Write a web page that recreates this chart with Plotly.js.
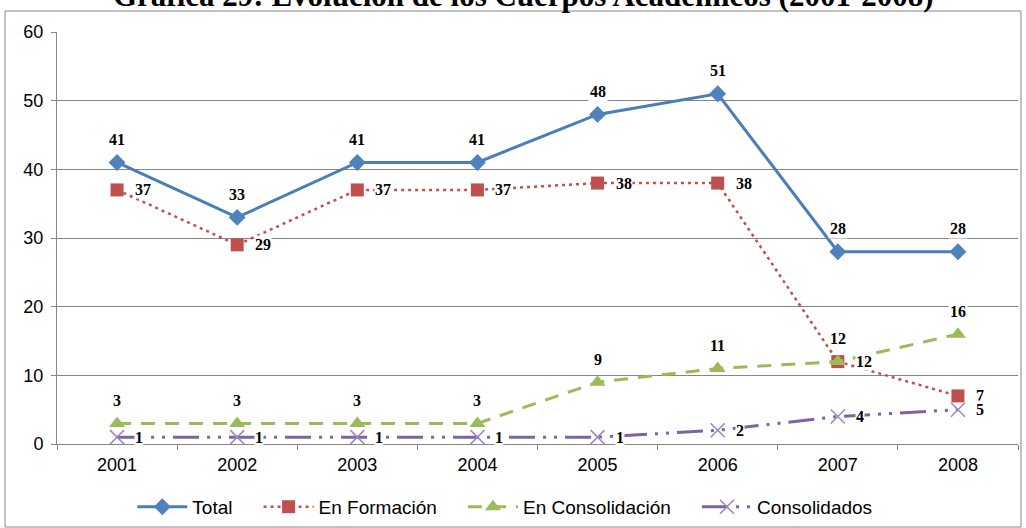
<!DOCTYPE html>
<html>
<head>
<meta charset="utf-8">
<script src="https://cdn.plot.ly/plotly-3.0.1.min.js"></script>
<style>html,body{margin:0;padding:0;background:#fff;}#chart{width:1026px;height:528px;}</style>
</head>
<body>
<div id="chart"></div>
<script>
const years = ['2001','2002','2003','2004','2005','2006','2007','2008'];
const total = [41, 33, 41, 41, 48, 51, 28, 28];
const enFormacion = [37, 29, 37, 37, 38, 38, 12, 7];
const enConsolidacion = [3, 3, 3, 3, 9, 11, 12, 16];
const consolidados = [1, 1, 1, 1, 1, 2, 4, 5];
const seriesNames = ['Total', 'En Formación', 'En Consolidación', 'Consolidados'];
const chartTitle = 'Gráfica 29: Evolución de los Cuerpos Académicos (2001-2008)';

const labelFont = {family: 'Liberation Serif, Times New Roman, serif', size: 16, color: '#000', weight: 'bold'};

const traces = [
  {
    x: years, y: total, name: seriesNames[0] + '\u00a0\u00a0\u00a0\u00a0', mode: 'lines+markers',
    line: {color: '#4A7EBB', width: 3},
    marker: {symbol: 'diamond', size: 13, color: '#4F81BD'}
  },
  {
    x: years, y: enFormacion, name: seriesNames[1] + '\u00a0\u00a0\u00a0\u00a0', mode: 'lines+markers',
    line: {color: '#C0504D', width: 2.5, dash: '3px,4px'},
    marker: {symbol: 'square', size: 13, color: '#C0504D'}
  },
  {
    x: years, y: enConsolidacion, name: seriesNames[2] + '\u00a0\u00a0\u00a0\u00a0', mode: 'lines+markers',
    line: {color: '#9BBB59', width: 3, dash: '14px,10px'},
    marker: {symbol: 'triangle-up', size: 14, color: '#9BBB59'}
  },
  {
    x: years, y: consolidados, name: seriesNames[3], mode: 'lines+markers',
    line: {color: '#7E649E', width: 3, dash: '26px,8px,3px,8px,3px,8px'},
    marker: {symbol: 'x-thin', size: 14, line: {color: '#9B86C2', width: 1.5}, color: '#9B86C2'}
  }
];

function aboveLabels(vals) {
  return vals.map((v, i) => ({
    x: i, y: v, xref: 'x', yref: 'y', text: String(v), showarrow: false,
    yshift: 23, xanchor: 'center', yanchor: 'middle', font: labelFont,
    bgcolor: '#fff', borderpad: 1
  }));
}
function rightLabels(vals) {
  return vals.map((v, i) => ({
    x: i, y: v, xref: 'x', yref: 'y', text: String(v), showarrow: false,
    xshift: 17, xanchor: 'left', yanchor: 'middle', font: labelFont,
    bgcolor: '#fff', borderpad: 0
  }));
}

const annotations = [].concat(
  rightLabels(enFormacion),
  rightLabels(consolidados),
  aboveLabels(enConsolidacion),
  aboveLabels(total),
  [{
    text: '<b>' + chartTitle + '</b>', xref: 'paper', yref: 'paper',
    x: 0.4854, y: 1.0898, xanchor: 'center', yanchor: 'middle', showarrow: false,
    font: {family: 'Liberation Serif, Times New Roman, serif', size: 31, color: '#000'}
  }]
);

const layout = {
  width: 1026, height: 528,
  margin: {l: 57, r: 8, t: 32, b: 84},
  paper_bgcolor: '#fff', plot_bgcolor: '#fff',
  xaxis: {
    type: 'category', range: [-0.5, 7.5], tickson: 'boundaries',
    ticks: 'outside', ticklen: 5, tickcolor: '#868686',
    showline: true, linecolor: '#868686', linewidth: 1,
    showgrid: false, zeroline: false, ticklabelstandoff: 4,
    tickfont: {family: 'Liberation Sans, Arial, sans-serif', size: 18, color: '#000'}
  },
  yaxis: {
    range: [0, 60], dtick: 10, ticks: 'outside', ticklen: 5, tickcolor: '#868686',
    showline: true, linecolor: '#868686', linewidth: 1,
    gridcolor: '#868686', gridwidth: 1, zeroline: false, ticklabelstandoff: 4,
    tickfont: {family: 'Liberation Sans, Arial, sans-serif', size: 18, color: '#000'}
  },
  legend: {
    orientation: 'h', x: 0.466, xanchor: 'center', y: 0.04, yanchor: 'middle', yref: 'container',
    font: {family: 'Liberation Sans, Arial, sans-serif', size: 19, color: '#000'},
    itemwidth: 50, traceorder: 'normal', bgcolor: 'rgba(0,0,0,0)'
  },
  annotations: annotations,
  shapes: [{
    type: 'rect', xref: 'paper', yref: 'paper',
    x0: -0.0541, x1: 1.0031, y0: -0.2015, y1: 1.051,
    line: {color: '#868686', width: 1}, fillcolor: 'rgba(0,0,0,0)', layer: 'below'
  }],
  showlegend: true
};

Plotly.newPlot('chart', traces, layout, {displayModeBar: false, staticPlot: true});
</script>
</body>
</html>
